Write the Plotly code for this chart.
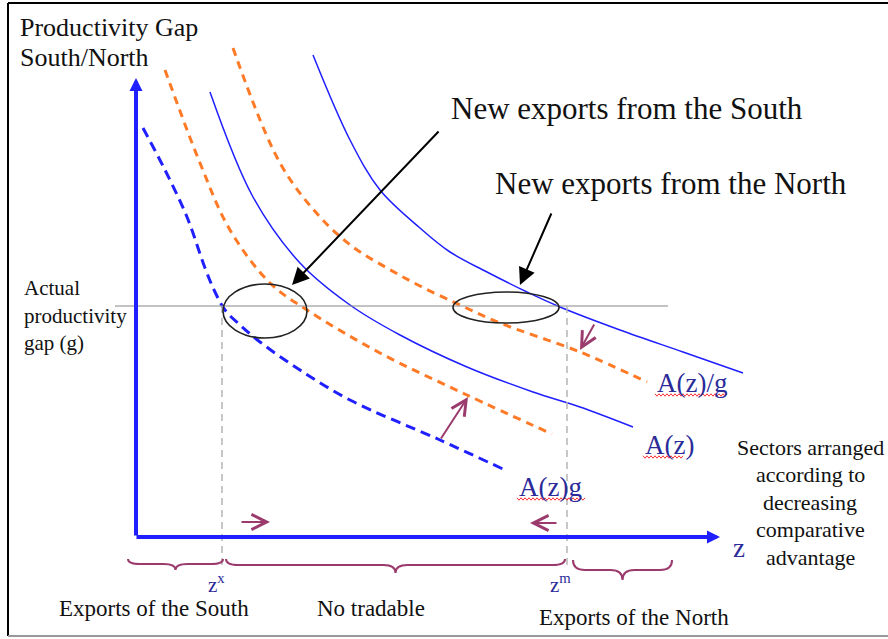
import numpy as np
import plotly.graph_objects as go

# ---------------- data (conceptual units: z on x, productivity gap on y) -------------
z_azg = [0.7, 2.9, 5.1, 6.9, 7.9, 8.9, 10.4, 12.4, 16.4, 21.4, 30.4, 36.9]
gap_azg = [40.9, 36.7, 32.0, 26.9, 24.5, 22.7, 21.2, 19.5, 16.7, 13.7, 9.7, 6.7]

z_azg_new = [2.9, 6.4, 9.4, 13.4, 17.1, 24.4, 33.1, 41.6]
gap_azg_new = [46.7, 37.4, 30.7, 25.4, 22.7, 18.4, 14.2, 10.3]

z_az = [7.4, 11.7, 16.4, 21.4, 26.4, 33.1, 39.7, 44.4, 49.7]
gap_az = [44.5, 34.0, 27.4, 23.2, 20.2, 17.0, 14.5, 13.0, 11.0]

z_azdg_new = [9.7, 14.4, 18.4, 21.7, 25.1, 28.4, 32.4, 36.4, 44.4, 51.1]
gap_azdg_new = [48.9, 37.4, 32.0, 29.0, 26.9, 25.1, 23.2, 21.4, 18.5, 15.5]

z_azdg = [17.7, 21.4, 24.4, 28.4, 31.4, 35.1, 39.1, 42.4, 48.4, 54.7, 60.7]
gap_azdg = [48.2, 39.7, 34.7, 30.9, 28.5, 26.5, 24.5, 23.0, 20.7, 18.5, 16.4]

g_actual = 23.1          # actual productivity gap
z_x = 8.6                # threshold zx
z_m = 43.1               # threshold zm
z_axis_end = 58.4
gap_axis_end = 45.9

curve_labels = ["A(z)/g", "A(z)", "A(z)g"]
label_z = [51.9, 50.7, 38.1]
label_gap = [15.4, 9.2, 5.0]

sector_lines = ["Sectors arranged", "according to", "decreasing", "comparative", "advantage"]
bottom_labels = ["Exports of the South", "No tradable", "Exports of the North"]

XR = [-13.6, 75.2]
YR = [-10.2, 53.7]

BLUE = "#1f1fff"
ORANGE = "#ff7a26"
PURPLE = "#9b3a6c"
NAVY = "#2b2b9a"
FONT = "Liberation Serif"

fig = go.Figure()

def curve(z, g, color, width, dash=None):
    fig.add_trace(go.Scatter(x=z, y=g, mode="lines",
                             line=dict(color=color, width=width, dash=dash,
                                       shape="spline", smoothing=1.0),
                             hoverinfo="skip", showlegend=False))

curve(z_azg, gap_azg, BLUE, 3, "10px,6px")
curve(z_azg_new, gap_azg_new, ORANGE, 3, "8px,6px")
curve(z_az, gap_az, BLUE, 1.5)
curve(z_azdg_new, gap_azdg_new, ORANGE, 3, "8px,6px")
curve(z_azdg, gap_azdg, BLUE, 1.5)

shapes = []
# actual gap line
shapes.append(dict(type="line", x0=-2.1, x1=53.2, y0=g_actual, y1=g_actual,
                   line=dict(color="#888888", width=1.2)))
# vertical dashed thresholds
for zz in [z_x, z_m]:
    shapes.append(dict(type="line", x0=zz, x1=zz, y0=g_actual, y1=-2.8,
                       line=dict(color="#b5b5b5", width=1.5, dash="7px,5px")))
# ellipses
shapes.append(dict(type="circle", x0=8.7, x1=17.1, y0=19.9, y1=25.3,
                   line=dict(color="#222222", width=1.6)))
shapes.append(dict(type="circle", x0=31.7, x1=42.3, y0=21.4, y1=24.5,
                   line=dict(color="#222222", width=1.6)))

# braces
def brace(x0, x1, ytop, ymid, ybot, r=1.2):
    xc = (x0 + x1) / 2
    p = (f"M{x0},{ytop} Q{x0},{ymid} {x0+r},{ymid} L{xc-r},{ymid} "
         f"Q{xc},{ymid} {xc},{ybot} Q{xc},{ymid} {xc+r},{ymid} "
         f"L{x1-r},{ymid} Q{x1},{ymid} {x1},{ytop}")
    return dict(type="path", path=p, line=dict(color=PURPLE, width=2))

shapes.append(brace(-0.8, 8.7, -2.2, -2.7, -3.3))
shapes.append(brace(9.0, 42.9, -2.2, -2.8, -3.6))
shapes.append(brace(43.7, 53.6, -2.3, -3.3, -4.3))

# frame
shapes.append(dict(type="line", x0=-12.8, x1=-12.8, y0=53.4, y1=-9.9,
                   line=dict(color="black", width=2)))
shapes.append(dict(type="line", x0=-12.8, x1=75.2, y0=53.4, y1=53.4,
                   line=dict(color="black", width=2)))
shapes.append(dict(type="line", x0=-12.8, x1=75.2, y0=-9.9, y1=-9.9,
                   line=dict(color="#999999", width=2)))

# spell-check squiggles under the curve labels
def squiggle(xa, xb, y):
    xs = np.arange(xa, xb + 1e-9, 0.2)
    ys = y + np.where(np.arange(len(xs)) % 2 == 0, 0.12, -0.12)
    p = "M" + " L".join(f"{a:.2f},{b:.2f}" for a, b in zip(xs, ys))
    return dict(type="path", path=p, line=dict(color="#ff3030", width=1))

shapes.append(squiggle(51.9, 59.2, 14.2))
shapes.append(squiggle(50.7, 54.8, 8.0))
shapes.append(squiggle(38.1, 44.9, 3.8))

ann = []
def arrow(tip, tail, color, width, head, size):
    ann.append(dict(x=tip[0], y=tip[1], ax=tail[0], ay=tail[1],
                    xref="x", yref="y", axref="x", ayref="y", text="",
                    showarrow=True, arrowcolor=color, arrowwidth=width,
                    arrowhead=head, arrowsize=size, standoff=0, startstandoff=0))

# axes
arrow((0, gap_axis_end), (0, 0), BLUE, 4, 2, 0.65)
arrow((z_axis_end, 0), (-0.1, 0), BLUE, 4, 2, 0.65)
# callout arrows
arrow((15.6, 25.2), (30.4, 40.7), "black", 2, 2, 1.7)
arrow((38.4, 25.2), (41.6, 32.5), "black", 2, 2, 1.7)
# shift arrows
arrow((13.4, 1.5), (10.4, 1.5), PURPLE, 2, 5, 1.5)
arrow((39.4, 1.4), (42.2, 1.4), PURPLE, 2, 5, 1.5)
arrow((33.2, 14.0), (30.4, 9.7), PURPLE, 2, 5, 1.5)
arrow((44.4, 18.7), (45.9, 21.4), PURPLE, 2, 5, 1.5)

def text(t, x, y, size, color="#111111", xanchor="left"):
    ann.append(dict(x=x, y=y, xref="x", yref="y", text=t, showarrow=False,
                    xanchor=xanchor, yanchor="middle",
                    font=dict(family=FONT, size=size, color=color)))

text("Productivity Gap", -11.8, 51.0, 26)
text("South/North", -11.8, 48.0, 26)
text("New exports from the South", 31.3, 42.9, 31)
text("New exports from the North", 35.7, 35.4, 31)
text("Actual", -11.4, 24.9, 21)
text("productivity", -11.4, 22.1, 21)
text("gap (g)", -11.4, 19.4, 21)
for t, x, y in zip(curve_labels, label_z, label_gap):
    text(t, x, y, 27, NAVY)
text("z", 60.3, -1.1, 27, NAVY, "center")
for i, t in enumerate(sector_lines):
    text(t, 67.4, 9.0 - 2.75 * i, 22, xanchor="center")
text("z<sup>x</sup>", 8.0, -4.6, 21, NAVY, "center")
text("z<sup>m</sup>", 42.4, -4.6, 21, NAVY, "center")
text(bottom_labels[0], -7.9, -7.1, 23)
text(bottom_labels[1], 17.9, -7.1, 23)
text(bottom_labels[2], 40.1, -8.0, 23)

fig.update_layout(
    width=888, height=639,
    margin=dict(l=0, r=0, t=0, b=0),
    paper_bgcolor="white", plot_bgcolor="white",
    xaxis=dict(range=XR, visible=False, fixedrange=True),
    yaxis=dict(range=YR, visible=False, fixedrange=True),
    shapes=shapes, annotations=ann, showlegend=False,
)

fig.write_html("out.html", config={"displayModeBar": False},
               post_script="document.body.style.margin='0';")
